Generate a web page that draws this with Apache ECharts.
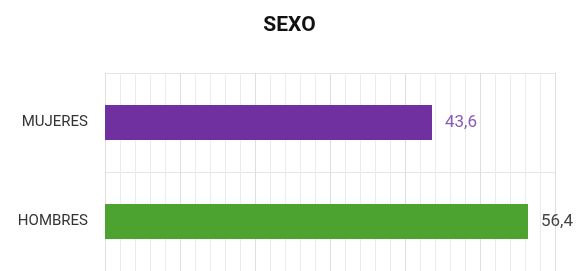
<!DOCTYPE html>
<html>
<head>
<meta charset="utf-8">
<script src="https://cdn.jsdelivr.net/npm/echarts@6/dist/echarts.min.js"></script>
<style>
  html, body { margin: 0; padding: 0; background: #fff; }
  #chart { width: 579px; height: 271px; }
</style>
</head>
<body>
<div id="chart"></div>
<script>
var chartTitle = 'SEXO';
var categories = ['MUJERES', 'HOMBRES'];
var values = [43.6, 56.4];
var barColors = ['#7030a0', '#4ca32f'];
var labelColors = ['#8a5ab8', '#444444'];

var myChart = echarts.init(document.getElementById('chart'));

var barData = values.map(function (v, i) {
    return {
        value: v,
        itemStyle: { color: barColors[i] },
        label: { color: labelColors[i] }
    };
});

option = {
    animation: false,
    title: {
        text: chartTitle,
        left: 'center',
        top: 10,
        textStyle: {
            fontFamily: 'Roboto',
            fontWeight: 'bold',
            fontSize: 21,
            color: '#111'
        }
    },
    grid: {
        left: 105,
        top: 73,
        width: 450,
        height: 200
    },
    xAxis: {
        type: 'value',
        min: 0,
        max: 60,
        interval: 10,
        axisLine: { show: false },
        axisTick: { show: false },
        axisLabel: { show: false },
        splitLine: { show: true, lineStyle: { color: '#dedede', width: 1 } },
        minorTick: { show: false, splitNumber: 5 },
        minorSplitLine: { show: true, lineStyle: { color: '#ececec', width: 1 } }
    },
    yAxis: {
        type: 'category',
        inverse: true,
        data: categories,
        axisLine: { show: false },
        axisTick: { show: false },
        axisLabel: {
            margin: 17,
            fontFamily: 'Roboto',
            fontSize: 15,
            color: '#333'
        },
        splitLine: { show: true, lineStyle: { color: '#e4e4e4', width: 1 } }
    },
    series: [
        {
            type: 'bar',
            data: barData,
            barWidth: 35,
            label: {
                show: true,
                position: 'right',
                distance: 13,
                fontFamily: 'Roboto',
                fontSize: 17,
                formatter: function (p) {
                    return String(p.value).replace('.', ',');
                }
            }
        }
    ]
};

myChart.setOption(option);
</script>
</body>
</html>
